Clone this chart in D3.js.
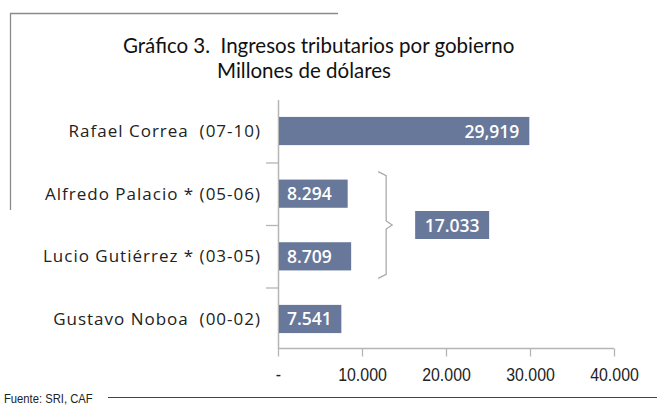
<!DOCTYPE html>
<html>
<head>
<meta charset="utf-8">
<script src="https://cdn.jsdelivr.net/npm/d3@7"></script>
<style>
  body { margin: 0; background: #fff; }
  svg { display: block; }
</style>
</head>
<body>
<div class="chart"></div>
<script>
// gobiernos, de arriba hacia abajo
const gobiernos = ['Rafael Correa  (07-10)', 'Alfredo Palacio * (05-06)', 'Lucio Gutiérrez * (03-05)', 'Gustavo Noboa  (00-02)']
const ingresos = [29919, 8294, 8709, 7541]
const etiquetas = ['29,919', '8.294', '8.709', '7.541']
const ticks = [0, 10000, 20000, 30000, 40000]
const tickLabels = ['-', '10.000', '20.000', '30.000', '40.000']
const grupo = ['Alfredo Palacio * (05-06)', 'Lucio Gutiérrez * (03-05)']
const grupoLabel = '17.033'

const width = 657, height = 405
const barColor = '#67789a'

const svg = d3.select('.chart').append('svg')
  .attr('width', width)
  .attr('height', height)

// marco
svg.append('path')
  .attr('d', 'M338,13.5H10.5V210')
  .attr('fill', 'none')
  .attr('stroke', '#8a8a8a')
  .attr('stroke-width', 1.3)
svg.append('line')
  .attr('x1', 108).attr('x2', 657)
  .attr('y1', 397.5).attr('y2', 397.5)
  .attr('stroke', '#444').attr('stroke-width', 1)

svg.append('text')
  .attr('x', 123).attr('y', 53)
  .attr('font-family', 'Lato, sans-serif')
  .attr('font-size', 20.5)
  .attr('fill', '#111')
  .attr('xml:space', 'preserve')
  .text('Gráfico 3.  Ingresos tributarios por gobierno')
svg.append('text')
  .attr('x', 217).attr('y', 78)
  .attr('font-family', 'Lato, sans-serif')
  .attr('font-size', 20.5)
  .attr('fill', '#111')
  .text('Millones de dólares')

const x = d3.scaleLinear().domain([0, 40000]).range([278, 614])
const y = d3.scaleBand().domain(gobiernos).range([100, 350]).paddingInner(0.55).paddingOuter(0.27)
const band = d3.scaleBand().domain(gobiernos).range([100, 350])

// eje y
svg.append('line')
  .attr('x1', 278.5).attr('x2', 278.5)
  .attr('y1', 100).attr('y2', 349)
  .attr('stroke', '#b5b5b5').attr('stroke-width', 1.5)
svg.selectAll('.ytick')
  .data(gobiernos.slice(1))
  .join('line')
  .attr('class', 'ytick')
  .attr('x1', 266).attr('x2', 278)
  .attr('y1', d => band(d) + 0.5).attr('y2', d => band(d) + 0.5)
  .attr('stroke', '#b5b5b5').attr('stroke-width', 1.3)
svg.selectAll('.ylab')
  .data(gobiernos)
  .join('text')
  .attr('class', 'ylab')
  .attr('x', 261)
  .attr('y', d => band(d) + band.bandwidth() / 2 + 6)
  .attr('text-anchor', 'end')
  .attr('font-family', '"Open Sans", sans-serif')
  .attr('font-size', 17)
  .attr('letter-spacing', 1)
  .attr('fill', '#222')
  .attr('xml:space', 'preserve')
  .text(d => d)

// eje x
const xAxis = svg.append('g')
  .attr('transform', 'translate(0,348.5)')
  .call(d3.axisBottom(x).tickValues(ticks).tickSize(8).tickFormat((d, i) => tickLabels[i]))
xAxis.select('.domain').attr('stroke', '#b5b5b5').attr('stroke-width', 1.5)
  .attr('d', `M${x(0)},0H${x(40000)}`)
xAxis.selectAll('.tick line').attr('stroke', '#b5b5b5').attr('stroke-width', 1.3)
xAxis.selectAll('.tick text')
  .attr('y', 19)
  .attr('font-family', '"Liberation Sans Narrow", "Liberation Sans", sans-serif')
  .attr('font-size', 18.5)
  .attr('fill', '#222')
  .attr('transform', 'scale(0.86,1)')

// barras
svg.selectAll('.bar')
  .data(gobiernos)
  .join('rect')
  .attr('class', 'bar')
  .attr('x', x(0) + 1)
  .attr('y', d => y(d))
  .attr('width', (d, i) => x(ingresos[i]) - x(0) - 1)
  .attr('height', y.bandwidth())
  .attr('fill', barColor)

svg.selectAll('.val')
  .data(gobiernos)
  .join('text')
  .attr('class', 'val')
  .attr('x', (d, i) => i === 0 ? x(ingresos[i]) - 10 : x(0) + 9)
  .attr('y', d => y(d) + y.bandwidth() / 2 + 6.5)
  .attr('text-anchor', (d, i) => i === 0 ? 'end' : 'start')
  .attr('font-family', '"Open Sans", sans-serif')
  .attr('font-weight', 600)
  .attr('font-size', 17.5)
  .attr('fill', '#fff')
  .text((d, i) => etiquetas[i])

// llave del grupo
const gTop = y(grupo[0]) - 8
const gBot = y(grupo[1]) + y.bandwidth() + 8
const gMid = (gTop + gBot) / 2
const bx = x(d3.max(grupo, g => ingresos[gobiernos.indexOf(g)])) + 27
svg.append('path')
  .attr('d', `M${bx},${gTop}L${bx + 8},${gTop + 4}V${gMid - 4}L${bx + 14},${gMid}L${bx + 8},${gMid + 4}V${gBot - 4}L${bx},${gBot}`)
  .attr('fill', 'none')
  .attr('stroke', '#aaa')
  .attr('stroke-width', 1.3)

svg.append('rect')
  .attr('x', bx + 37).attr('y', gMid - 14)
  .attr('width', 74).attr('height', 28)
  .attr('fill', barColor)
svg.append('text')
  .attr('x', bx + 37 + 37).attr('y', gMid + 6.5)
  .attr('text-anchor', 'middle')
  .attr('font-family', '"Open Sans", sans-serif')
  .attr('font-weight', 600)
  .attr('font-size', 17.5)
  .attr('fill', '#fff')
  .text(grupoLabel)

svg.append('text')
  .attr('x', 4).attr('y', 403)
  .attr('font-family', '"Liberation Sans Narrow", "Liberation Sans", sans-serif')
  .attr('font-size', 12.5)
  .attr('fill', '#222')
  .attr('transform', 'translate(0.4,0) scale(0.9,1)')
  .text('Fuente: SRI, CAF')
</script>
</body>
</html>
